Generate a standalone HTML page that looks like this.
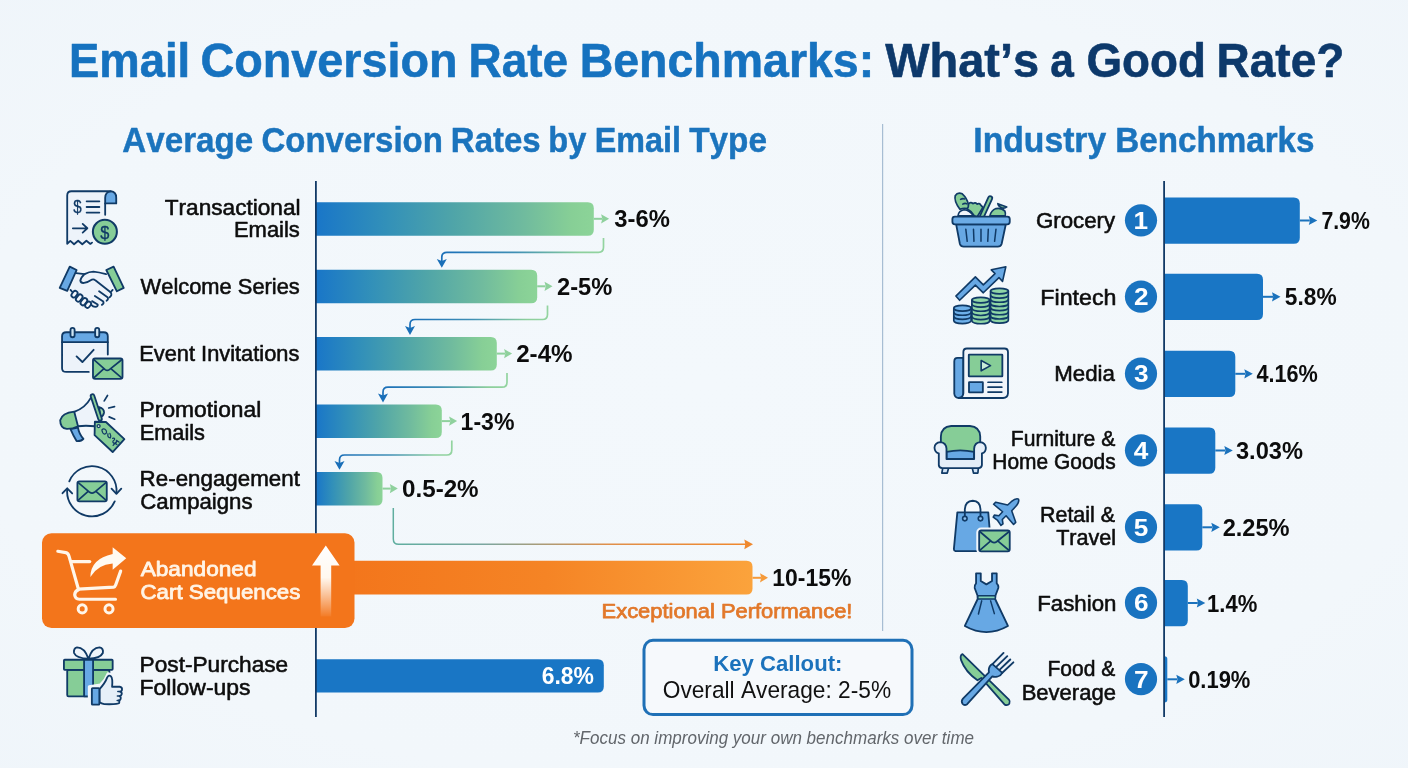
<!DOCTYPE html>
<html lang="en"><head><meta charset="utf-8">
<title>Email Conversion Rate Benchmarks</title>
<style>
html,body{margin:0;padding:0;background:#f2f6fb;}
body{width:1408px;height:768px;overflow:hidden;font-family:"Liberation Sans",sans-serif;}
svg{display:block;}
svg text{font-family:"Liberation Sans",sans-serif;font-kerning:none;white-space:pre;}
</style></head><body>
<svg width="1408" height="768" viewBox="0 0 1408 768">
<defs>
<radialGradient id="bgv" cx="50%" cy="50%" r="75%">
<stop offset="0" stop-color="#f3f8fc"/><stop offset="0.7" stop-color="#f2f7fb"/><stop offset="1" stop-color="#eff5fa"/>
</radialGradient>
<linearGradient id="gbar" x1="0" y1="0" x2="1" y2="0">
<stop offset="0" stop-color="#1976c8"/><stop offset="0.25" stop-color="#3290b9"/><stop offset="0.5" stop-color="#50a5a8"/><stop offset="0.75" stop-color="#70bb9e"/><stop offset="0.92" stop-color="#87cf96"/><stop offset="1" stop-color="#8cd498"/>
</linearGradient>
<linearGradient id="gor" x1="0" y1="0" x2="1" y2="0">
<stop offset="0" stop-color="#f3751b"/><stop offset="0.5" stop-color="#f58425"/><stop offset="1" stop-color="#fba33c"/>
</linearGradient>
<linearGradient id="gup" x1="0" y1="0" x2="0" y2="1">
<stop offset="0" stop-color="#ffffff"/><stop offset="0.45" stop-color="#fff8ef"/><stop offset="1" stop-color="#ffffff" stop-opacity="0.05"/>
</linearGradient>
</defs>
<rect x="0" y="0" width="1408" height="768" fill="url(#bgv)"/>
<text x="68.96" y="76.60" font-size="47.97" textLength="121.26" lengthAdjust="spacingAndGlyphs" fill="#1672bf" font-weight="bold" stroke="#1672bf" stroke-width="0.6" stroke-linejoin="round">Email</text>
<text x="200.38" y="76.60" font-size="47.97" textLength="257.22" lengthAdjust="spacingAndGlyphs" fill="#1672bf" font-weight="bold" stroke="#1672bf" stroke-width="0.6" stroke-linejoin="round">Conversion</text>
<text x="468.53" y="76.60" font-size="47.97" textLength="99.54" lengthAdjust="spacingAndGlyphs" fill="#1672bf" font-weight="bold" stroke="#1672bf" stroke-width="0.6" stroke-linejoin="round">Rate</text>
<text x="579.69" y="76.60" font-size="47.97" textLength="294.48" lengthAdjust="spacingAndGlyphs" fill="#1672bf" font-weight="bold" stroke="#1672bf" stroke-width="0.6" stroke-linejoin="round">Benchmarks:</text>
<text x="885.25" y="76.60" font-size="47.97" textLength="153.87" lengthAdjust="spacingAndGlyphs" fill="#0d396b" font-weight="bold" stroke="#0d396b" stroke-width="0.6" stroke-linejoin="round">What’s</text>
<text x="1050.36" y="76.60" font-size="47.97" textLength="23.57" lengthAdjust="spacingAndGlyphs" fill="#0d396b" font-weight="bold" stroke="#0d396b" stroke-width="0.6" stroke-linejoin="round">a</text>
<text x="1086.42" y="76.60" font-size="47.97" textLength="119.50" lengthAdjust="spacingAndGlyphs" fill="#0d396b" font-weight="bold" stroke="#0d396b" stroke-width="0.6" stroke-linejoin="round">Good</text>
<text x="1216.62" y="76.60" font-size="47.97" textLength="127.72" lengthAdjust="spacingAndGlyphs" fill="#0d396b" font-weight="bold" stroke="#0d396b" stroke-width="0.6" stroke-linejoin="round">Rate?</text>
<text x="122.32" y="151.55" font-size="35.32" textLength="130.86" lengthAdjust="spacingAndGlyphs" fill="#1b74bd" font-weight="bold" stroke="#1b74bd" stroke-width="0.5" stroke-linejoin="round">Average</text>
<text x="261.50" y="151.55" font-size="35.32" textLength="181.40" lengthAdjust="spacingAndGlyphs" fill="#1b74bd" font-weight="bold" stroke="#1b74bd" stroke-width="0.5" stroke-linejoin="round">Conversion</text>
<text x="450.85" y="151.55" font-size="35.32" textLength="89.76" lengthAdjust="spacingAndGlyphs" fill="#1b74bd" font-weight="bold" stroke="#1b74bd" stroke-width="0.5" stroke-linejoin="round">Rates</text>
<text x="548.30" y="151.55" font-size="35.32" textLength="38.02" lengthAdjust="spacingAndGlyphs" fill="#1b74bd" font-weight="bold" stroke="#1b74bd" stroke-width="0.5" stroke-linejoin="round">by</text>
<text x="594.79" y="151.55" font-size="35.32" textLength="86.15" lengthAdjust="spacingAndGlyphs" fill="#1b74bd" font-weight="bold" stroke="#1b74bd" stroke-width="0.5" stroke-linejoin="round">Email</text>
<text x="689.28" y="151.55" font-size="35.32" textLength="77.71" lengthAdjust="spacingAndGlyphs" fill="#1b74bd" font-weight="bold" stroke="#1b74bd" stroke-width="0.5" stroke-linejoin="round">Type</text>
<text x="973.30" y="151.55" font-size="35.32" textLength="132.94" lengthAdjust="spacingAndGlyphs" fill="#1b74bd" font-weight="bold" stroke="#1b74bd" stroke-width="0.5" stroke-linejoin="round">Industry</text>
<text x="1115.33" y="151.55" font-size="35.32" textLength="199.18" lengthAdjust="spacingAndGlyphs" fill="#1b74bd" font-weight="bold" stroke="#1b74bd" stroke-width="0.5" stroke-linejoin="round">Benchmarks</text>
<rect x="882" y="124" width="1.2" height="507" fill="#a7bdd3"/>
<path d="M316,202.2 H587.8 Q593.8,202.2 593.8,208.2 V229.7 Q593.8,235.7 587.8,235.7 H316 Z" fill="url(#gbar)"/>
<path d="M316,269.7 H531.2 Q537.2,269.7 537.2,275.7 V297.2 Q537.2,303.2 531.2,303.2 H316 Z" fill="url(#gbar)"/>
<path d="M316,337.0 H490.8 Q496.8,337.0 496.8,343.0 V364.5 Q496.8,370.5 490.8,370.5 H316 Z" fill="url(#gbar)"/>
<path d="M316,404.5 H435.8 Q441.8,404.5 441.8,410.5 V432.0 Q441.8,438.0 435.8,438.0 H316 Z" fill="url(#gbar)"/>
<path d="M316,472.0 H376.5 Q382.5,472.0 382.5,478.0 V499.5 Q382.5,505.5 376.5,505.5 H316 Z" fill="url(#gbar)"/>
<path d="M593.8,218.79999999999998 H602.0999999999999" stroke="#8fd19d" stroke-width="2" fill="none"/>
<path d="M609.0999999999999,218.79999999999998 L601.0999999999999,214.2 L602.3,218.79999999999998 L601.0999999999999,223.39999999999998 Z" fill="#8fd19d"/>
<path d="M537.2,286.3 H545.5" stroke="#8fd19d" stroke-width="2" fill="none"/>
<path d="M552.5,286.3 L544.5,281.7 L545.7,286.3 L544.5,290.90000000000003 Z" fill="#8fd19d"/>
<path d="M496.8,353.6 H505.1" stroke="#8fd19d" stroke-width="2" fill="none"/>
<path d="M512.1,353.6 L504.1,349.0 L505.3,353.6 L504.1,358.20000000000005 Z" fill="#8fd19d"/>
<path d="M441.8,421.1 H450.1" stroke="#8fd19d" stroke-width="2" fill="none"/>
<path d="M457.1,421.1 L449.1,416.5 L450.3,421.1 L449.1,425.70000000000005 Z" fill="#8fd19d"/>
<path d="M382.5,488.6 H390.8" stroke="#8fd19d" stroke-width="2" fill="none"/>
<path d="M397.8,488.6 L389.8,484.0 L391.0,488.6 L389.8,493.20000000000005 Z" fill="#8fd19d"/>
<linearGradient id="gc1" gradientUnits="userSpaceOnUse" x1="441.8" y1="0" x2="603.5" y2="0"><stop offset="0" stop-color="#1a6fb8"/><stop offset="0.45" stop-color="#3f8fb5"/><stop offset="0.85" stop-color="#8ccf9c"/><stop offset="1" stop-color="#93d4a0"/></linearGradient>
<path d="M603.5,238 V247.3 Q603.5,252.3 598.5,252.3 H446.8 Q441.8,252.3 441.8,257.3 V263.3" stroke="url(#gc1)" stroke-width="1.7" fill="none"/>
<path d="M441.8,267.7 L436.8,258.90000000000003 L441.8,260.90000000000003 L446.8,258.90000000000003 Z" fill="#1a6fb8"/>
<linearGradient id="gc2" gradientUnits="userSpaceOnUse" x1="410" y1="0" x2="547.5" y2="0"><stop offset="0" stop-color="#1a6fb8"/><stop offset="0.45" stop-color="#3f8fb5"/><stop offset="0.85" stop-color="#8ccf9c"/><stop offset="1" stop-color="#93d4a0"/></linearGradient>
<path d="M547.5,305.5 V314.5 Q547.5,319.5 542.5,319.5 H415 Q410,319.5 410,324.5 V330.5" stroke="url(#gc2)" stroke-width="1.7" fill="none"/>
<path d="M410,334.9 L405,326.1 L410,328.1 L415,326.1 Z" fill="#1a6fb8"/>
<linearGradient id="gc3" gradientUnits="userSpaceOnUse" x1="383" y1="0" x2="507" y2="0"><stop offset="0" stop-color="#1a6fb8"/><stop offset="0.45" stop-color="#3f8fb5"/><stop offset="0.85" stop-color="#8ccf9c"/><stop offset="1" stop-color="#93d4a0"/></linearGradient>
<path d="M507,373 V382.2 Q507,387.2 502,387.2 H388 Q383,387.2 383,392.2 V398" stroke="url(#gc3)" stroke-width="1.7" fill="none"/>
<path d="M383,402.4 L378,393.6 L383,395.6 L388,393.6 Z" fill="#1a6fb8"/>
<linearGradient id="gc4" gradientUnits="userSpaceOnUse" x1="339.5" y1="0" x2="451.8" y2="0"><stop offset="0" stop-color="#1a6fb8"/><stop offset="0.45" stop-color="#3f8fb5"/><stop offset="0.85" stop-color="#8ccf9c"/><stop offset="1" stop-color="#93d4a0"/></linearGradient>
<path d="M451.8,440.5 V450 Q451.8,455 446.8,455 H344.5 Q339.5,455 339.5,460 V465.3" stroke="url(#gc4)" stroke-width="1.7" fill="none"/>
<path d="M339.5,469.7 L334.5,460.90000000000003 L339.5,462.90000000000003 L344.5,460.90000000000003 Z" fill="#1a6fb8"/>
<linearGradient id="gc5" gradientUnits="userSpaceOnUse" x1="393" y1="0" x2="752" y2="0"><stop offset="0" stop-color="#5fae9f"/><stop offset="0.25" stop-color="#7aa6a0"/><stop offset="0.6" stop-color="#e08f4a"/><stop offset="1" stop-color="#f0872b"/></linearGradient>
<path d="M393.3,508 V539 Q393.3,544.3 398.6,544.3 H746" stroke="url(#gc5)" stroke-width="1.5" fill="none"/>
<path d="M753,544.3 L744.3,539.4 L745.3,544.3 L744.3,549.2 Z" fill="#ef882e"/>
<path d="M340,560.8 H746.5 Q752.5,560.8 752.5,566.8 V588.5 Q752.5,594.5 746.5,594.5 H340 Z" fill="url(#gor)"/>
<rect x="42" y="533.3" width="312.5" height="94.8" rx="9.5" ry="9.5" fill="#f3751b"/>
<path d="M752.5,577.8 H761" stroke="#f59a3a" stroke-width="2" fill="none"/>
<path d="M768,577.8 L760,573.1999999999999 L761.2,577.8 L760,582.4 Z" fill="#f59a3a"/>
<path d="M325.8,545.5 L339.6,565.5 H331.2 V616.5 H320.6 V565.5 H312 Z" fill="url(#gup)"/>
<path d="M316,659.3 H597.8 Q603.8,659.3 603.8,665.3 V686.5 Q603.8,692.5 597.8,692.5 H316 Z" fill="#1976c5"/>
<rect x="315" y="181" width="1.8" height="352.3" fill="#123a66"/>
<rect x="315" y="628" width="1.8" height="89" fill="#123a66"/>
<text x="164.77" y="214.62" font-size="21.29" textLength="135.77" lengthAdjust="spacingAndGlyphs" fill="#0d0d0d" stroke="#0d0d0d" stroke-width="0.55" stroke-linejoin="round">Transactional</text>
<text x="233.97" y="237.12" font-size="21.29" textLength="65.84" lengthAdjust="spacingAndGlyphs" fill="#0d0d0d" stroke="#0d0d0d" stroke-width="0.55" stroke-linejoin="round">Emails</text>
<text x="140.58" y="294.43" font-size="21.29" textLength="159.24" lengthAdjust="spacingAndGlyphs" fill="#0d0d0d" stroke="#0d0d0d" stroke-width="0.55" stroke-linejoin="round">Welcome Series</text>
<text x="139.29" y="360.93" font-size="21.29" textLength="160.03" lengthAdjust="spacingAndGlyphs" fill="#0d0d0d" stroke="#0d0d0d" stroke-width="0.55" stroke-linejoin="round">Event Invitations</text>
<text x="139.60" y="416.93" font-size="21.29" textLength="121.65" lengthAdjust="spacingAndGlyphs" fill="#0d0d0d" stroke="#0d0d0d" stroke-width="0.55" stroke-linejoin="round">Promotional</text>
<text x="139.69" y="439.62" font-size="21.29" textLength="65.32" lengthAdjust="spacingAndGlyphs" fill="#0d0d0d" stroke="#0d0d0d" stroke-width="0.55" stroke-linejoin="round">Emails</text>
<text x="139.64" y="486.43" font-size="21.29" textLength="160.25" lengthAdjust="spacingAndGlyphs" fill="#0d0d0d" stroke="#0d0d0d" stroke-width="0.55" stroke-linejoin="round">Re-engagement</text>
<text x="140.35" y="508.93" font-size="21.29" textLength="112.18" lengthAdjust="spacingAndGlyphs" fill="#0d0d0d" stroke="#0d0d0d" stroke-width="0.55" stroke-linejoin="round">Campaigns</text>
<text x="140.66" y="575.80" font-size="20.93" textLength="115.90" lengthAdjust="spacingAndGlyphs" fill="#fff4e6" stroke="#fff4e6" stroke-width="0.8" stroke-linejoin="round">Abandoned</text>
<text x="140.47" y="598.80" font-size="20.93" textLength="159.94" lengthAdjust="spacingAndGlyphs" fill="#fff4e6" stroke="#fff4e6" stroke-width="0.8" stroke-linejoin="round">Cart Sequences</text>
<text x="139.62" y="672.23" font-size="21.29" textLength="148.62" lengthAdjust="spacingAndGlyphs" fill="#0d0d0d" stroke="#0d0d0d" stroke-width="0.55" stroke-linejoin="round">Post-Purchase</text>
<text x="139.59" y="694.73" font-size="21.29" textLength="110.96" lengthAdjust="spacingAndGlyphs" fill="#0d0d0d" stroke="#0d0d0d" stroke-width="0.55" stroke-linejoin="round">Follow-ups</text>
<text x="614.25" y="227.20" font-size="23.26" textLength="55.57" lengthAdjust="spacingAndGlyphs" fill="#0c0c0c" font-weight="bold">3-6%</text>
<text x="556.98" y="294.90" font-size="23.26" textLength="55.35" lengthAdjust="spacingAndGlyphs" fill="#0c0c0c" font-weight="bold">2-5%</text>
<text x="516.16" y="362.30" font-size="23.26" textLength="56.48" lengthAdjust="spacingAndGlyphs" fill="#0c0c0c" font-weight="bold">2-4%</text>
<text x="460.55" y="429.80" font-size="23.26" textLength="53.86" lengthAdjust="spacingAndGlyphs" fill="#0c0c0c" font-weight="bold">1-3%</text>
<text x="402.04" y="497.30" font-size="23.26" textLength="76.59" lengthAdjust="spacingAndGlyphs" fill="#0c0c0c" font-weight="bold">0.5-2%</text>
<text x="772.36" y="586.00" font-size="23.26" textLength="79.05" lengthAdjust="spacingAndGlyphs" fill="#0c0c0c" font-weight="bold">10-15%</text>
<text x="541.66" y="684.00" font-size="23.26" textLength="52.24" lengthAdjust="spacingAndGlyphs" fill="#ffffff" font-weight="bold">6.8%</text>
<text x="601.58" y="617.83" font-size="20.42" textLength="250.84" lengthAdjust="spacingAndGlyphs" fill="#e2782a" stroke="#e2782a" stroke-width="0.75" stroke-linejoin="round">Exceptional Performance!</text>
<rect x="644" y="640.3" width="268" height="74.3" rx="9" ry="9" fill="#f6f9fc" stroke="#1f70b6" stroke-width="3"/>
<text x="713.22" y="671.30" font-size="22.67" textLength="129.21" lengthAdjust="spacingAndGlyphs" fill="#1b72bc" font-weight="bold">Key Callout:</text>
<text x="662.72" y="697.80" font-size="23.11" textLength="228.38" lengthAdjust="spacingAndGlyphs" fill="#111">Overall Average: 2-5%</text>
<text x="573.00" y="743.80" font-size="17.88" textLength="401.03" lengthAdjust="spacingAndGlyphs" fill="#62666b" font-style="italic">*Focus on improving your own benchmarks over time</text>
<path d="M1164,197.5 H1293.8 Q1299.8,197.5 1299.8,203.5 V237.7 Q1299.8,243.7 1293.8,243.7 H1164 Z" fill="#1976c5"/>
<path d="M1299.8,220.5 H1309.8" stroke="#1b72bc" stroke-width="2" fill="none"/>
<path d="M1317.3,220.5 L1308.8,215.9 L1310.0,220.5 L1308.8,225.1 Z" fill="#1b72bc"/>
<path d="M1164,273.8 H1257 Q1263,273.8 1263,279.8 V314.0 Q1263,320.0 1257,320.0 H1164 Z" fill="#1976c5"/>
<path d="M1263,296.8 H1273.0" stroke="#1b72bc" stroke-width="2" fill="none"/>
<path d="M1280.5,296.8 L1272.0,292.2 L1273.2,296.8 L1272.0,301.40000000000003 Z" fill="#1b72bc"/>
<path d="M1164,350.8 H1229.3 Q1235.3,350.8 1235.3,356.8 V391.0 Q1235.3,397.0 1229.3,397.0 H1164 Z" fill="#1976c5"/>
<path d="M1235.3,373.8 H1245.3" stroke="#1b72bc" stroke-width="2" fill="none"/>
<path d="M1252.8,373.8 L1244.3,369.2 L1245.5,373.8 L1244.3,378.40000000000003 Z" fill="#1b72bc"/>
<path d="M1164,427.5 H1209.3 Q1215.3,427.5 1215.3,433.5 V467.7 Q1215.3,473.7 1209.3,473.7 H1164 Z" fill="#1976c5"/>
<path d="M1215.3,450.5 H1225.3" stroke="#1b72bc" stroke-width="2" fill="none"/>
<path d="M1232.8,450.5 L1224.3,445.9 L1225.5,450.5 L1224.3,455.1 Z" fill="#1b72bc"/>
<path d="M1164,504.3 H1196.3 Q1202.3,504.3 1202.3,510.3 V544.5 Q1202.3,550.5 1196.3,550.5 H1164 Z" fill="#1976c5"/>
<path d="M1202.3,527.3 H1212.3" stroke="#1b72bc" stroke-width="2" fill="none"/>
<path d="M1219.8,527.3 L1211.3,522.6999999999999 L1212.5,527.3 L1211.3,531.9 Z" fill="#1b72bc"/>
<path d="M1164,580 H1181.8 Q1187.8,580 1187.8,586 V620.2 Q1187.8,626.2 1181.8,626.2 H1164 Z" fill="#1976c5"/>
<path d="M1187.8,603 H1197.8" stroke="#1b72bc" stroke-width="2" fill="none"/>
<path d="M1205.3,603 L1196.8,598.4 L1198.0,603 L1196.8,607.6 Z" fill="#1b72bc"/>
<path d="M1164,656.3 H1164.55 Q1167.3,656.3 1167.3,659.05 V699.75 Q1167.3,702.5 1164.55,702.5 H1164 Z" fill="#1976c5"/>
<path d="M1167.3,679.3 H1177.3" stroke="#1b72bc" stroke-width="2" fill="none"/>
<path d="M1184.8,679.3 L1176.3,674.6999999999999 L1177.5,679.3 L1176.3,683.9 Z" fill="#1b72bc"/>
<rect x="1163.2" y="181" width="1.8" height="536" fill="#123a66"/>
<text x="1321.39" y="229.00" font-size="23.26" textLength="48.47" lengthAdjust="spacingAndGlyphs" fill="#0c0c0c" font-weight="bold">7.9%</text>
<text x="1284.80" y="305.30" font-size="23.26" textLength="51.80" lengthAdjust="spacingAndGlyphs" fill="#0c0c0c" font-weight="bold">5.8%</text>
<text x="1256.47" y="382.30" font-size="23.26" textLength="61.40" lengthAdjust="spacingAndGlyphs" fill="#0c0c0c" font-weight="bold">4.16%</text>
<text x="1235.96" y="459.00" font-size="23.26" textLength="66.96" lengthAdjust="spacingAndGlyphs" fill="#0c0c0c" font-weight="bold">3.03%</text>
<text x="1222.68" y="535.80" font-size="23.26" textLength="66.94" lengthAdjust="spacingAndGlyphs" fill="#0c0c0c" font-weight="bold">2.25%</text>
<text x="1207.11" y="611.50" font-size="23.26" textLength="50.27" lengthAdjust="spacingAndGlyphs" fill="#0c0c0c" font-weight="bold">1.4%</text>
<text x="1188.13" y="687.80" font-size="23.26" textLength="62.25" lengthAdjust="spacingAndGlyphs" fill="#0c0c0c" font-weight="bold">0.19%</text>
<circle cx="1141" cy="220.3" r="16.1" fill="#1973c0"/>
<text x="1133.46" y="228.80" font-size="24.71" textLength="14.57" lengthAdjust="spacingAndGlyphs" fill="#ffffff" font-weight="bold">1</text>
<circle cx="1141" cy="296.6" r="16.1" fill="#1973c0"/>
<text x="1133.99" y="305.10" font-size="24.71" textLength="14.57" lengthAdjust="spacingAndGlyphs" fill="#ffffff" font-weight="bold">2</text>
<circle cx="1141" cy="373.6" r="16.1" fill="#1973c0"/>
<text x="1134.09" y="382.10" font-size="24.71" textLength="14.57" lengthAdjust="spacingAndGlyphs" fill="#ffffff" font-weight="bold">3</text>
<circle cx="1141" cy="450.3" r="16.1" fill="#1973c0"/>
<text x="1133.79" y="458.80" font-size="24.71" textLength="14.57" lengthAdjust="spacingAndGlyphs" fill="#ffffff" font-weight="bold">4</text>
<circle cx="1141" cy="527.0999999999999" r="16.1" fill="#1973c0"/>
<text x="1133.88" y="535.60" font-size="24.71" textLength="14.57" lengthAdjust="spacingAndGlyphs" fill="#ffffff" font-weight="bold">5</text>
<circle cx="1141" cy="602.8" r="16.1" fill="#1973c0"/>
<text x="1133.91" y="611.30" font-size="24.71" textLength="14.57" lengthAdjust="spacingAndGlyphs" fill="#ffffff" font-weight="bold">6</text>
<circle cx="1141" cy="679.0999999999999" r="16.1" fill="#1973c0"/>
<text x="1133.93" y="687.60" font-size="24.71" textLength="14.57" lengthAdjust="spacingAndGlyphs" fill="#ffffff" font-weight="bold">7</text>
<text x="1035.95" y="227.72" font-size="21.29" textLength="79.21" lengthAdjust="spacingAndGlyphs" fill="#0d0d0d" stroke="#0d0d0d" stroke-width="0.55" stroke-linejoin="round">Grocery</text>
<text x="1040.37" y="304.53" font-size="21.29" textLength="76.06" lengthAdjust="spacingAndGlyphs" fill="#0d0d0d" stroke="#0d0d0d" stroke-width="0.55" stroke-linejoin="round">Fintech</text>
<text x="1054.25" y="381.33" font-size="21.29" textLength="60.68" lengthAdjust="spacingAndGlyphs" fill="#0d0d0d" stroke="#0d0d0d" stroke-width="0.55" stroke-linejoin="round">Media</text>
<text x="1010.74" y="445.93" font-size="21.29" textLength="104.51" lengthAdjust="spacingAndGlyphs" fill="#0d0d0d" stroke="#0d0d0d" stroke-width="0.55" stroke-linejoin="round">Furniture &amp;</text>
<text x="992.36" y="468.73" font-size="21.29" textLength="123.32" lengthAdjust="spacingAndGlyphs" fill="#0d0d0d" stroke="#0d0d0d" stroke-width="0.55" stroke-linejoin="round">Home Goods</text>
<text x="1040.02" y="521.62" font-size="21.29" textLength="75.04" lengthAdjust="spacingAndGlyphs" fill="#0d0d0d" stroke="#0d0d0d" stroke-width="0.55" stroke-linejoin="round">Retail &amp;</text>
<text x="1056.19" y="545.02" font-size="21.29" textLength="59.98" lengthAdjust="spacingAndGlyphs" fill="#0d0d0d" stroke="#0d0d0d" stroke-width="0.55" stroke-linejoin="round">Travel</text>
<text x="1037.25" y="610.83" font-size="21.29" textLength="79.12" lengthAdjust="spacingAndGlyphs" fill="#0d0d0d" stroke="#0d0d0d" stroke-width="0.55" stroke-linejoin="round">Fashion</text>
<text x="1047.55" y="676.23" font-size="21.29" textLength="67.70" lengthAdjust="spacingAndGlyphs" fill="#0d0d0d" stroke="#0d0d0d" stroke-width="0.55" stroke-linejoin="round">Food &amp;</text>
<text x="1021.67" y="699.62" font-size="21.29" textLength="94.23" lengthAdjust="spacingAndGlyphs" fill="#0d0d0d" stroke="#0d0d0d" stroke-width="0.55" stroke-linejoin="round">Beverage</text>
<g transform="translate(48,180) scale(0.09372)" fill="none" stroke="#103a66" stroke-width="19.5" stroke-linecap="round" stroke-linejoin="round">

<path d="M205,675 V165 Q205,120 250,120 H660 Q610,130 610,190 V420 Q500,450 470,560 L470,668 L452,682 L410,648 L366,686 L322,648 L278,686 L238,650 Z" fill="#edf3fa" stroke="none"/>
<path d="M610,250 V190 Q612,128 668,128 Q726,130 726,190 V250 Z" fill="#67a8e4" stroke="none"/>
<path d="M205,680 V165 Q205,120 250,120 H670 Q728,125 728,190 V250 H610 M205,680 L238,650 L278,686 L322,648 L366,686 L410,648 L452,682 L470,668"/>
<path d="M610,372 V190 Q612,128 668,122"/>
<path d="M412,228 H548 M412,288 H548 M412,348 H548" stroke-width="19"/>
<path d="M265,515 H420 M370,468 L420,515 L370,562" stroke-width="19"/>
<circle cx="607" cy="553" r="128" fill="#86cd97" stroke-width="22"/>
<text x="315" y="350" font-size="190" text-anchor="middle" transform="translate(315,0) scale(0.85,1) translate(-315,0)" stroke="#103a66" stroke-width="3" fill="#103a66">$</text>
<text x="607" y="626" font-size="205" text-anchor="middle" transform="translate(607,0) scale(0.85,1) translate(-607,0)" stroke="#103a66" stroke-width="4" fill="#103a66">$</text>

</g>
<g transform="translate(48,252.4) scale(0.09372)" fill="none" stroke="#103a66" stroke-width="19.5" stroke-linecap="round" stroke-linejoin="round">

<path d="M300,222 L390,232 Q440,205 485,205 Q540,210 620,232 L690,395 L665,425 L668,455 L620,505 L565,555 L500,578 L455,560 L420,585 L380,560 L330,515 L290,480 L250,430 L240,400 Z" fill="#edf3fa" stroke="none"/>
<path d="M232,152 L305,188 L205,410 L125,378 Z" fill="#67a8e4"/>
<path d="M700,152 L622,188 L735,415 L808,378 Z" fill="#86cd97"/>
<path d="M300,222 L390,232 Q440,205 485,205 Q540,210 620,232"/>
<path d="M390,232 Q350,270 345,300 Q350,330 385,326 Q430,318 470,290 Q490,285 505,298 L668,425 Q690,455 655,480"/>
<path d="M690,400 L668,425"/>
<path d="M545,415 L635,478 Q650,500 625,515 M500,465 L590,525 Q600,548 575,560 M470,520 L530,555 Q535,580 505,582 Q480,580 462,560"/>
<path d="M240,400 L262,425"/>
<g fill="#f4f8fc">
<rect x="-38" y="-25" width="76" height="50" rx="25" transform="translate(283,446) rotate(-52)"/>
<rect x="-42" y="-25" width="84" height="50" rx="25" transform="translate(333,487) rotate(-52)"/>
<rect x="-42" y="-25" width="84" height="50" rx="25" transform="translate(383,526) rotate(-52)"/>
<rect x="-36" y="-24" width="72" height="48" rx="24" transform="translate(428,558) rotate(-52)"/>
</g>

</g>
<g transform="translate(48,318) scale(0.09372)" fill="none" stroke="#103a66" stroke-width="19.5" stroke-linecap="round" stroke-linejoin="round">

<path d="M150,258 V195 Q150,152 195,152 H595 Q638,152 638,195 V258 Z" fill="#67a8e4" stroke="none"/>
<path d="M150,258 H638 V395 H478 V575 H195 Q150,575 150,535 Z" fill="#edf3fa" stroke="none"/>
<path d="M435,575 H195 Q150,575 150,535 V195 Q150,152 195,152 H595 Q638,152 638,195 V390"/>
<path d="M150,258 H638"/>
<rect x="240" y="105" width="44" height="100" rx="22" fill="#cfe5f3"/>
<rect x="503" y="105" width="44" height="100" rx="22" fill="#cfe5f3"/>
<path d="M305,410 L367,470 L487,340" stroke-width="20"/>
<rect x="480" y="432" width="315" height="218" rx="22" fill="#86cd97" stroke="#f2f6fb" stroke-width="44"/>
<rect x="480" y="432" width="315" height="218" rx="22" fill="#86cd97"/>
<path d="M492,448 L610,550 Q632,568 655,550 L783,448 M492,636 L588,548 M783,636 L680,548" stroke-width="18"/>

</g>
<g transform="translate(48,385) scale(0.09372)" fill="none" stroke="#103a66" stroke-width="19.5" stroke-linecap="round" stroke-linejoin="round">

<path d="M545,235 Q600,250 598,295 Q590,335 560,345 Z" fill="#9ad6a8"/>
<path d="M285,285 Q400,240 455,140 L545,370 L505,440 Q400,430 320,440 Z" fill="#edf3fa" stroke="none"/>
<path d="M240,470 L320,455 Q330,520 378,575 Q360,600 305,598 Q270,540 240,470 Z" fill="#67a8e4"/>
<path d="M280,285 Q150,300 130,375 Q130,460 200,468 Q260,470 320,440 Z" fill="#86cd97"/>
<path d="M285,285 Q400,240 455,140 M320,440 Q400,430 500,440"/>
<path d="M475,118 L555,360" stroke-width="58"/>
<path d="M475,118 L555,360" stroke="#86cd97" stroke-width="20"/>
<path d="M600,170 L635,112 M648,245 L710,230 M652,340 L712,365" stroke-width="18"/>
<path d="M500,392 L618,395 L815,578 L690,715 L497,535 Z" fill="#86cd97"/>
<circle cx="540" cy="438" r="16" fill="#dff0e4" stroke-width="14"/>
<path d="M575,480 q20,-25 45,5 q15,30 -15,40 q-25,-5 -30,-45 M640,520 q-10,40 25,45 q10,-25 -5,-50 M690,570 q25,-10 20,15 q-30,15 -10,35 q20,10 30,-10 M735,600 l-40,45 m15,-25 l25,15 m-5,-45 l30,20" stroke-width="13"/>

</g>
<g transform="translate(48,455) scale(0.09372)" fill="none" stroke="#103a66" stroke-width="19.5" stroke-linecap="round" stroke-linejoin="round">

<path d="M227,282 A261.6,261.6 0 0 1 730,405"/>
<path d="M678,360 L730,415 L782,360"/>
<path d="M712,495 A265,265 0 0 1 205,365"/>
<path d="M155,408 L205,355 L258,410"/>
<rect x="314" y="282" width="313" height="212" rx="20" fill="#86cd97"/>
<path d="M326,298 L445,398 Q470,416 495,398 L615,298 M326,480 L425,392 M615,480 L515,392" stroke-width="18"/>

</g>
<g transform="translate(48,540) scale(0.09372)" fill="none" stroke="#fff6ea" stroke-width="34" stroke-linecap="round" stroke-linejoin="round">
<path d="M105,120 L190,135 Q215,140 225,175 L325,525 L700,503 Q715,500 722,480 L775,332"/>
<path d="M250,230 H445"/>
<path d="M325,530 Q285,545 285,585 Q290,630 335,632 H720"/>
<circle cx="365" cy="735" r="43" stroke-width="32"/>
<circle cx="651" cy="735" r="43" stroke-width="32"/>
<path d="M452,395 Q455,200 690,150 L690,78 L835,195 L690,318 L690,250 Q530,260 452,395 Z" fill="#fffaf2" stroke="none"/>
</g>
<g transform="translate(48,638) scale(0.09372)" fill="none" stroke="#103a66" stroke-width="19.5" stroke-linecap="round" stroke-linejoin="round">

<rect x="205" y="340" width="450" height="282" rx="14" fill="#86cd97"/>
<rect x="170" y="232" width="520" height="108" rx="8" fill="#86cd97"/>
<rect x="385" y="232" width="96" height="390" fill="#67a8e4"/>
<path d="M432,222 Q390,100 310,100 Q270,110 278,160 Q300,215 432,222 Q470,100 550,100 Q595,110 585,160 Q560,215 432,222 Z" fill="#eef4fa" stroke-width="20"/>
<path d="M440,735 V520 L560,500 Q620,440 640,380 L700,400 L700,500 L800,505 L810,720 Z" fill="#f2f6fb" stroke="#f2f6fb" stroke-width="30"/>
<path d="M550,545 Q610,480 632,420 Q650,390 672,410 Q692,430 684,520 H765 Q792,525 790,548 Q790,570 770,572 Q792,580 786,600 Q782,618 765,620 Q782,630 776,648 Q772,664 755,666 Q768,680 758,696 Q745,710 600,706 Q570,700 550,685 Z" fill="#e6eff8"/>
<path d="M745,572 H770 M740,620 H765 M738,666 H755" stroke-width="16"/>
<rect x="468" y="535" width="80" height="176" rx="8" fill="#67a8e4"/>

</g>
<g transform="translate(936,184) scale(0.09372)" fill="none" stroke="#103a66" stroke-width="19.5" stroke-linecap="round" stroke-linejoin="round">

<path d="M235,340 Q240,285 300,275 Q360,280 400,340 Z" fill="#f1f5fa" stroke-width="18"/>
<path d="M345,215 Q370,185 395,210 Q420,190 440,215 Q460,200 478,225 L500,250 L440,350 L410,340 Q380,290 330,265 Z" fill="#86cd97" stroke-width="18"/>
<path d="M255,270 Q190,180 205,125 Q230,85 280,105 Q330,150 345,215 Q350,250 330,262 Q290,255 255,270 Z" fill="#86cd97" stroke-width="18"/>
<path d="M262,165 Q285,150 305,160 M285,215 Q310,200 330,212" stroke-width="16"/>
<path d="M575,340 Q590,280 640,262 Q700,250 735,290 Q745,315 738,340 Z" fill="#86cd97" stroke-width="18"/>
<path d="M660,210 L755,245 Q735,262 705,255 Q670,245 660,210 Z" fill="#86cd97" stroke-width="18"/>
<path d="M478,372 L578,152" stroke-width="62"/>
<path d="M478,372 L578,152" stroke="#86cd97" stroke-width="24"/>
<path d="M215,430 H745 L700,640 Q690,668 660,668 H295 Q265,668 255,640 Z" fill="#67a8e4"/>
<rect x="175" y="348" width="612" height="82" rx="26" fill="#6cace6"/>
<path d="M318,482 L333,612 M400,482 L405,612 M480,482 V612 M558,482 L552,612 M640,482 L625,612" stroke-width="16"/>

</g>
<g transform="translate(936,260) scale(0.09372)" fill="none" stroke="#103a66" stroke-width="19.5" stroke-linecap="round" stroke-linejoin="round">

<path d="M212,385 L252,430 L420,268 L505,350 L672,188 L710,228 L745,72 L590,105 L630,145 L505,265 L420,180 Z" fill="#67a8e4" stroke-width="17"/>
<path d="M190,515 V648.5 A92.5,30 0 0 0 375,648.5 V515 Z" fill="#6db0ea" stroke-width="18"/><path d="M190,559.5 A92.5,30 0 0 0 375,559.5" stroke-width="17"/><path d="M190,604.0 A92.5,30 0 0 0 375,604.0" stroke-width="17"/><ellipse cx="282.5" cy="515" rx="92.5" ry="30" fill="#6db0ea" stroke-width="18"/><path d="M383,428 V650.5 A94.5,30 0 0 0 572,650.5 V428 Z" fill="#8fd6a6" stroke-width="18"/><path d="M383,472.5 A94.5,30 0 0 0 572,472.5" stroke-width="17"/><path d="M383,517.0 A94.5,30 0 0 0 572,517.0" stroke-width="17"/><path d="M383,561.5 A94.5,30 0 0 0 572,561.5" stroke-width="17"/><path d="M383,606.0 A94.5,30 0 0 0 572,606.0" stroke-width="17"/><ellipse cx="477.5" cy="428" rx="94.5" ry="30" fill="#8fd6a6" stroke-width="18"/><path d="M582,332 V643.5 A95.0,30 0 0 0 772,643.5 V332 Z" fill="#8fd6a6" stroke-width="18"/><path d="M582,376.5 A95.0,30 0 0 0 772,376.5" stroke-width="17"/><path d="M582,421.0 A95.0,30 0 0 0 772,421.0" stroke-width="17"/><path d="M582,465.5 A95.0,30 0 0 0 772,465.5" stroke-width="17"/><path d="M582,510.0 A95.0,30 0 0 0 772,510.0" stroke-width="17"/><path d="M582,554.5 A95.0,30 0 0 0 772,554.5" stroke-width="17"/><path d="M582,599.0 A95.0,30 0 0 0 772,599.0" stroke-width="17"/><ellipse cx="677.0" cy="332" rx="95.0" ry="30" fill="#8fd6a6" stroke-width="18"/>
</g>
<g transform="translate(936,338) scale(0.09372)" fill="none" stroke="#103a66" stroke-width="19.5" stroke-linecap="round" stroke-linejoin="round">

<path d="M292,212 H230 Q195,212 195,250 V595 Q200,640 245,640 Q290,635 292,590 Z" fill="#67a8e4"/>
<path d="M292,150 Q292,112 330,112 H730 Q768,112 768,150 V590 Q765,640 715,640 H245 Q290,635 292,590 Z" fill="#f1f5fa"/>
<rect x="350" y="178" width="358" height="232" rx="4" fill="#86cd97"/>
<path d="M482,240 L582,295 L482,350 Z" fill="#c9ecd9" stroke-width="17"/>
<rect x="352" y="470" width="148" height="110" rx="4" fill="#67a8e4"/>
<path d="M555,472 H702 M555,525 H702 M555,577 H702" stroke-width="18"/>

</g>
<g transform="translate(924,414) scale(0.09372)" fill="none" stroke="#103a66" stroke-width="19.5" stroke-linecap="round" stroke-linejoin="round">

<path d="M200,578 L190,630 H248 L262,578 Z M515,578 L528,630 H575 L580,578 Z" fill="#cfe2f5" stroke-width="18"/>
<path d="M180,310 V240 Q185,135 290,128 H490 Q595,135 600,240 V310 L540,410 H240 Z" fill="#86cd97"/>
<path d="M240,480 V405 Q385,370 535,405 V480 Z" fill="#67a8e4"/>
<path d="M240,480 V370 Q235,305 175,300 Q115,305 112,360 Q115,410 158,420 V545 Q160,575 195,578 H580 Q615,575 618,545 V420 Q660,410 660,360 Q655,305 598,300 Q540,305 535,370 V480 Z" fill="#e4eef8"/>

</g>
<g transform="translate(940,490) scale(0.09372)" fill="none" stroke="#103a66" stroke-width="19.5" stroke-linecap="round" stroke-linejoin="round">

<path d="M185,238 H515 L548,640 Q548,652 535,652 H165 Q148,650 148,630 Z" fill="#67a8e4"/>
<path d="M265,300 V205 Q270,118 350,115 Q428,118 432,205 V300" />
<circle cx="265" cy="305" r="24" fill="#8fc0ee" stroke-width="17"/>
<circle cx="432" cy="305" r="24" fill="#8fc0ee" stroke-width="17"/>
<rect x="418" y="432" width="326" height="222" rx="22" fill="#86cd97" stroke="#f2f6fb" stroke-width="62"/>
<rect x="418" y="432" width="326" height="222" rx="22" fill="#86cd97"/>
<path d="M430,448 L552,552 Q578,572 604,552 L732,448 M430,640 L532,550 M732,640 L625,550" stroke-width="18"/>
<path d="M838,98 Q850,130 800,185 L765,222 L808,345 L785,368 L705,275 L665,315 L672,362 L650,378 L615,325 L568,290 L580,268 L628,275 L668,232 L572,152 L595,130 L722,160 L760,125 Q812,82 838,98 Z" fill="#67a8e4" stroke-width="17"/>

</g>
<g transform="translate(940,566) scale(0.09372)" fill="none" stroke="#103a66" stroke-width="19.5" stroke-linecap="round" stroke-linejoin="round">

<path d="M385,78 H435 V160 L495,196 L555,160 V78 H605 V185 Q628,205 622,235 L592,315 L588,352 L725,640 Q495,770 265,640 L402,352 L400,315 L370,235 Q365,205 385,185 Z" fill="#67a8e4"/>
<path d="M404,318 H590 V352 H404 Z" fill="#80d0b5" stroke-width="16"/>
<path d="M445,372 L410,512 M540,372 L580,508" stroke-width="16"/>

</g>
<g transform="translate(940,640) scale(0.09372)" fill="none" stroke="#103a66" stroke-width="19.5" stroke-linecap="round" stroke-linejoin="round">

<path d="M240,150 Q210,165 225,215 Q270,340 400,430 L440,405 L690,690 Q720,705 740,680 Q752,655 735,635 Z" fill="#86cd97" stroke-width="19"/>
<path d="M560,258 L680,135 L785,237 L665,350 Z" fill="#eaf2fa" stroke="none"/>
<path d="M560,258 L678,138 M597,290 L718,172 M632,322 L750,208 M665,350 L783,238" stroke-width="20"/>
<path d="M535,275 Q545,262 560,258 L665,350 Q650,380 610,392 Q575,398 558,388 L290,685 Q260,705 240,680 Q222,650 245,625 L522,345 Q515,300 535,275 Z" fill="#67a8e4" stroke-width="19"/>

</g>
</svg>
</body></html>
